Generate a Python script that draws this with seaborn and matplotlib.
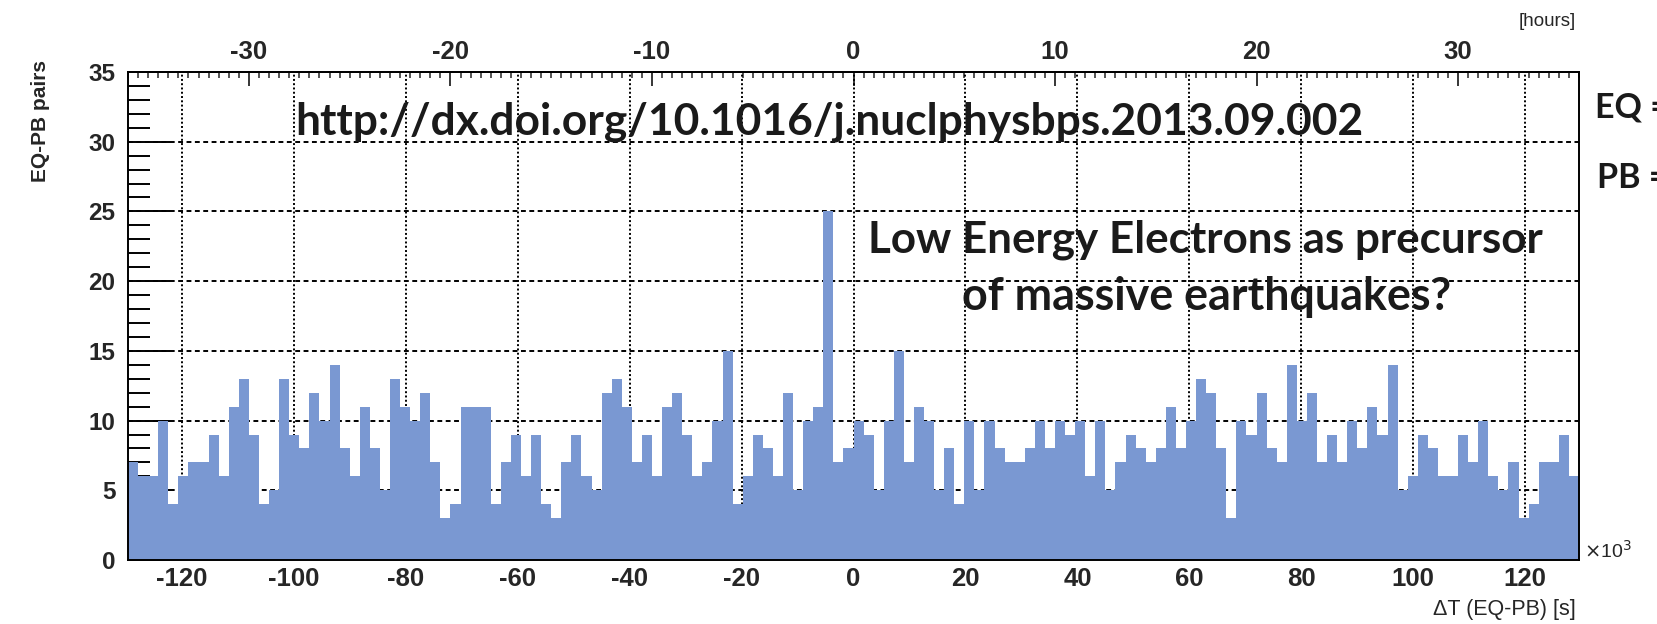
import numpy as np
import pandas as pd
import matplotlib
matplotlib.use("Agg")
import matplotlib.pyplot as plt
from matplotlib.ticker import MultipleLocator
import seaborn as sns

# ---- data (counts per 0.5 h bin) ----
x_min_ks = -129.6
x_max_ks = 129.6
n_bins = 144
counts = [7, 6, 6, 10, 4, 6, 7, 7, 9, 6,
          11, 13, 9, 4, 5, 13, 9, 8, 12, 10,
          14, 8, 6, 11, 8, 5, 13, 11, 10, 12,
          7, 3, 4, 11, 11, 11, 4, 7, 9, 6,
          9, 4, 3, 7, 9, 6, 5, 12, 13, 11,
          7, 9, 6, 11, 12, 9, 6, 7, 10, 15,
          4, 6, 9, 8, 6, 12, 5, 10, 11, 25,
          7, 8, 10, 9, 5, 10, 15, 7, 11, 10,
          5, 8, 4, 10, 5, 10, 8, 7, 7, 8,
          10, 8, 10, 9, 10, 6, 10, 5, 7, 9,
          8, 7, 8, 11, 8, 10, 13, 12, 8, 3,
          10, 9, 12, 8, 7, 14, 10, 12, 7, 9,
          7, 10, 8, 11, 9, 14, 5, 6, 9, 8,
          6, 6, 9, 7, 10, 6, 5, 7, 3, 4,
          7, 7, 9, 6]
x_ticks = [-120, -100, -80, -60, -40, -20, 0, 20, 40, 60, 80, 100, 120]
y_ticks = [0, 5, 10, 15, 20, 25, 30, 35]
hour_ticks = [-30, -20, -10, 0, 10, 20, 30]

url_text = "http://dx.doi.org/10.1016/j.nuclphysbps.2013.09.002"
note_line1 = "Low Energy Electrons as precursor"
note_line2 = "of massive earthquakes?"

edges = np.linspace(x_min_ks, x_max_ks, n_bins + 1)
centers = 0.5 * (edges[:-1] + edges[1:])
df = pd.DataFrame({"dt": centers, "n": counts})

sns.set_style("white")
plt.rcParams["font.family"] = ["Liberation Sans", "DejaVu Sans"]
plt.rcParams["axes.unicode_minus"] = False

W, H = 1657, 624
fig = plt.figure(figsize=(W / 100, H / 100), dpi=100)
fx = lambda px: px / W
fy = lambda py: 1 - py / H

ax = fig.add_axes([fx(128), fy(560), (1579 - 128) / W, (560 - 72) / H])
sns.histplot(data=df, x="dt", weights="n", bins=n_bins,
             binrange=(x_min_ks, x_max_ks), element="step",
             fill=True, color="#7a98d2", alpha=1, linewidth=0, ax=ax)
ax.set_xlim(x_min_ks, x_max_ks)
ax.set_ylim(0, 35)
ax.set_xlabel("")
ax.set_ylabel("")

ax.set_xticks(x_ticks)
ax.set_yticks(y_ticks)
ax.xaxis.set_minor_locator(MultipleLocator(5))
ax.yaxis.set_minor_locator(MultipleLocator(1))
ax.tick_params(axis="x", which="major", direction="in", length=10.5, width=1.3,
               bottom=True, top=False, labelsize=18.5, pad=5, color="k")
ax.tick_params(axis="x", which="minor", direction="in", length=4, width=1.1,
               bottom=True, top=False, color="k")
ax.tick_params(axis="y", which="major", direction="in", length=30, width=1.4,
               left=True, right=False, labelsize=17.5, pad=9, color="k")
ax.tick_params(axis="y", which="minor", direction="in", length=16, width=1.4,
               left=True, right=False, color="k")
for lab in ax.get_xticklabels() + ax.get_yticklabels():
    lab.set_fontweight("bold")

for s in ax.spines.values():
    s.set_visible(True)
    s.set_color("black")
    s.set_linewidth(1.4)

ax.set_axisbelow(True)
ax.xaxis.grid(True, which="major", color="black", linewidth=1.4,
              linestyle=(0, (1.0, 1.2)))
ax.yaxis.grid(True, which="major", color="black", linewidth=1.4,
              linestyle=(0, (2.5, 1.8)))

sec = ax.secondary_xaxis("top", functions=(lambda x: x / 3.6, lambda h: h * 3.6))
sec.set_xticks(hour_ticks)
sec.xaxis.set_minor_locator(MultipleLocator(0.5))
sec.tick_params(axis="x", which="major", direction="in", length=10, width=1.3,
                labelsize=18.5, pad=6)
sec.tick_params(axis="x", which="minor", direction="in", length=4, width=1.1)
for lab in sec.get_xticklabels():
    lab.set_fontweight("bold")
sec.spines["top"].set_linewidth(1.4)

# axis titles
fig.text(fx(1576), fy(22), "[hours]", ha="right", va="center", fontsize=13.5)
fig.text(fx(1576), fy(610), "ΔT (EQ-PB) [s]", ha="right", va="center", fontsize=15.5)
fig.text(fx(41), fy(121), "EQ-PB pairs", ha="center", va="center", rotation=90,
         fontsize=15, fontweight="bold")
fig.text(fx(1584), fy(558), r"$\times$10$^{3}$", ha="left", va="baseline", fontsize=14)

# annotations (bold, Calibri-like)
ann_font = ["Lato", "DejaVu Sans"]
ann_kw = dict(fontweight="bold", family=ann_font, color="#1a1a1a")
t_url = fig.text(fx(829.5), fy(135), url_text, ha="center", va="baseline",
                 fontsize=26, **ann_kw)
t_l1 = fig.text(fx(1205), fy(253), note_line1, ha="center", va="baseline",
                fontsize=26, **ann_kw)
t_l2 = fig.text(fx(1207), fy(310), note_line2, ha="center", va="baseline",
                fontsize=26, **ann_kw)
renderer = fig.canvas.get_renderer()
for t, target in [(t_url, 1065), (t_l1, 675), (t_l2, 489)]:
    for _ in range(2):
        bb = t.get_window_extent(renderer)
        t.set_fontsize(t.get_fontsize() * target / bb.width)

# side labels, cut by the right edge as in the original slide
probe = fig.text(0, 0, "EQ", fontsize=26, **ann_kw)
fs_side = 26 * 47 / probe.get_window_extent(renderer).width
probe.remove()
fig.text(fx(1595), fy(118), "EQ =", ha="left", va="baseline", fontsize=fs_side, **ann_kw)
fig.text(fx(1597), fy(188), "PB =", ha="left", va="baseline", fontsize=fs_side, **ann_kw)

fig.savefig("out.png", dpi=100, facecolor="white")
